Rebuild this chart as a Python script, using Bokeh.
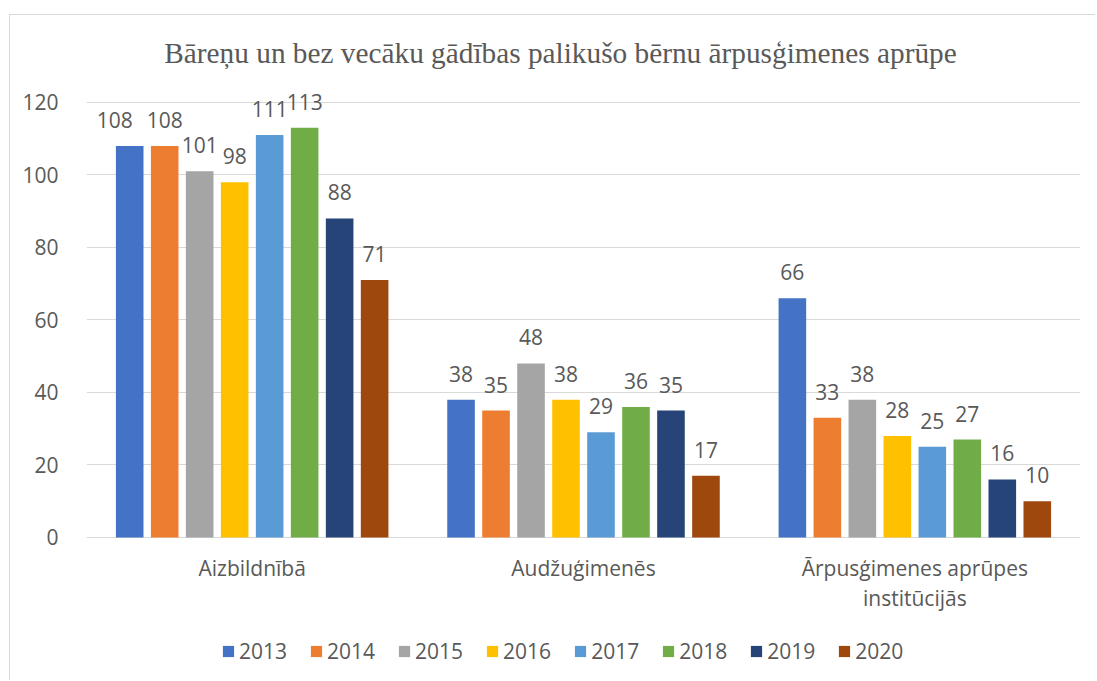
from bokeh.plotting import figure
from bokeh.models import (ColumnDataSource, FactorRange, Range1d, LabelSet, Label,
                          Legend, LegendItem, FixedTicker)
from bokeh.core.properties import value
from bokeh.transform import dodge
from bokeh.embed import file_html
from bokeh.resources import INLINE

title_text = "Bāreņu un bez vecāku gādības palikušo bērnu ārpusģimenes aprūpe"
categories = ["Aizbildnībā", "Audžuģimenēs", "Ārpusģimenes aprūpes\ninstitūcijās"]
years = ["2013", "2014", "2015", "2016", "2017", "2018", "2019", "2020"]
values = {
    "2013": [108, 38, 66],
    "2014": [108, 35, 33],
    "2015": [101, 48, 38],
    "2016": [98, 38, 28],
    "2017": [111, 29, 25],
    "2018": [113, 36, 27],
    "2019": [88, 35, 16],
    "2020": [71, 17, 10],
}
y_ticks = [0, 20, 40, 60, 80, 100, 120]

colors = ["#4472C4", "#ED7D31", "#A5A5A5", "#FFC000", "#5B9BD5", "#70AD47", "#264478", "#9E480E"]
FONT = "Open Sans"
TXT = "#595959"
GRID = "#D9D9D9"
PX = 3.625  # pixels per data unit on the y axis (layout constant)
# horizontal nudges (px) of data labels, as in the original (overlap avoidance)
label_nudge = {"2013": [-15, 0, 0]}

p = figure(x_range=FactorRange(*categories, range_padding=0),
           y_range=Range1d(-36.69, 142.62),
           width=1086, height=666, output_backend="svg", toolbar_location=None,
           min_border_left=76, min_border_right=16, min_border_top=5, min_border_bottom=11)
p.margin = (14, 0, 0, 9)
p.styles = {"border-top": "1px solid #D9D9D9", "border-left": "1px solid #D9D9D9"}
p.outline_line_color = None
p.background_fill_color = "white"
p.border_fill_color = "white"

data = {"cat": categories}
for yr in years:
    data["v" + yr] = values[yr]
    data["t" + yr] = [str(v) for v in values[yr]]
    data["o" + yr] = label_nudge.get(yr, [0, 0, 0])
src = ColumnDataSource(data)

step = 0.1056
bw = 0.0833
items = []
for i, yr in enumerate(years):
    off = (i - 3.5) * step
    r = p.vbar(x=dodge("cat", off, range=p.x_range), top="v" + yr, width=bw,
               source=src, fill_color=colors[i], line_color=None)
    items.append(LegendItem(label=yr, renderers=[r]))
    lab = LabelSet(x=dodge("cat", off, range=p.x_range), y="v" + yr, text="t" + yr,
                   x_offset="o" + yr,
                   source=src, text_align="center", text_baseline="alphabetic",
                   y_offset=18, text_font=value(FONT), text_font_size="21px", text_color=TXT)
    p.add_layout(lab)

# category labels (drawn inside the extended frame)
lx, ly, lt = [], [], []
for c in categories:
    for k, line in enumerate(c.split("\n")):
        lx.append(c)
        ly.append(-(31 + 30 * k) / PX)
        lt.append(line)
p.text(x=lx, y=ly, text=lt, text_align="center", text_baseline="middle",
       text_font=value(FONT), text_font_size="21px", text_color=TXT)

legend = Legend(items=items, location=(135, 5), orientation="horizontal",
                glyph_width=14, glyph_height=14, label_standoff=4, spacing=22,
                padding=0, margin=0, border_line_color=None, background_fill_alpha=0,
                label_text_font=FONT, label_text_font_size="21px", label_text_color=TXT)
p.add_layout(legend, "center")

title = Label(x=1.5, y=(537 - 53) / PX, x_offset=-23, text=title_text,
              text_align="center", text_baseline="middle",
              text_font="Liberation Serif", text_font_size="29.3px", text_color=TXT)
p.add_layout(title)

p.yaxis.ticker = FixedTicker(ticks=y_ticks)
p.yaxis.axis_line_color = None
p.yaxis.major_tick_line_color = None
p.yaxis.minor_tick_line_color = None
p.yaxis.major_label_standoff = 22
p.yaxis.major_label_text_font = FONT
p.yaxis.major_label_text_font_size = "21px"
p.yaxis.major_label_text_color = TXT

p.xaxis.visible = False
p.xgrid.grid_line_color = None
p.ygrid.grid_line_color = GRID
p.ygrid.ticker = FixedTicker(ticks=y_ticks)

open("out.html", "w").write(file_html(p, INLINE))
